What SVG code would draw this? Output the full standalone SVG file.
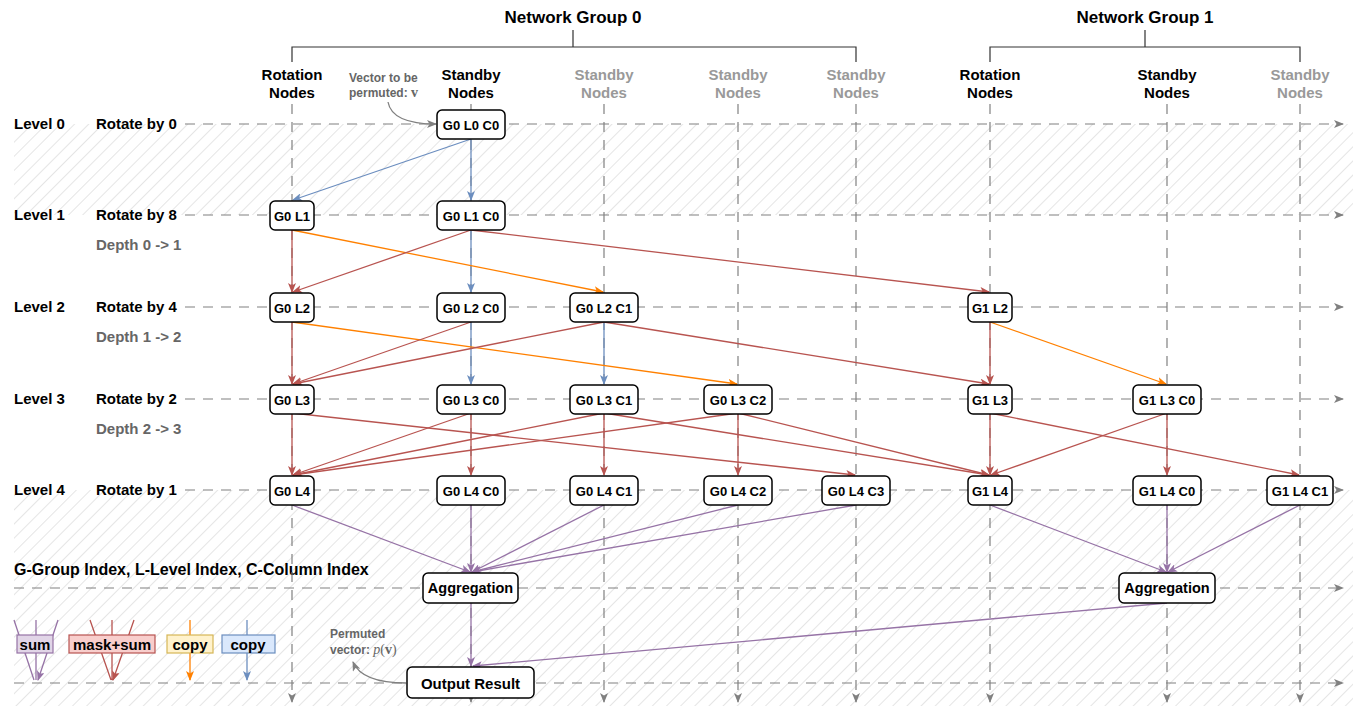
<svg xmlns="http://www.w3.org/2000/svg" width="1353" height="706" viewBox="0 0 1353 706">
<defs>
<pattern id="hatch" width="10" height="10" patternUnits="userSpaceOnUse" patternTransform="rotate(45)"><line x1="0" y1="0" x2="0" y2="10" stroke="#cccccc" stroke-width="1"/></pattern>
<marker id="aGray" viewBox="0 0 10 8" refX="9" refY="4" markerWidth="10" markerHeight="8" markerUnits="userSpaceOnUse" orient="auto"><path d="M0,0 L10,4 L0,8 L2.5,4 z" fill="#808080"/></marker>
<marker id="aBlue" viewBox="0 0 10 8" refX="9" refY="4" markerWidth="10" markerHeight="8" markerUnits="userSpaceOnUse" orient="auto"><path d="M0,0 L10,4 L0,8 L2.5,4 z" fill="#6c8ebf"/></marker>
<marker id="aRed" viewBox="0 0 10 8" refX="9" refY="4" markerWidth="10" markerHeight="8" markerUnits="userSpaceOnUse" orient="auto"><path d="M0,0 L10,4 L0,8 L2.5,4 z" fill="#b85450"/></marker>
<marker id="aOrange" viewBox="0 0 10 8" refX="9" refY="4" markerWidth="10" markerHeight="8" markerUnits="userSpaceOnUse" orient="auto"><path d="M0,0 L10,4 L0,8 L2.5,4 z" fill="#ff8000"/></marker>
<marker id="aPurple" viewBox="0 0 10 8" refX="9" refY="4" markerWidth="10" markerHeight="8" markerUnits="userSpaceOnUse" orient="auto"><path d="M0,0 L10,4 L0,8 L2.5,4 z" fill="#9673a6"/></marker>
</defs>
<style>
text{font-family:"Liberation Sans",Arial,sans-serif;font-weight:bold;}
.t14{font-size:15px;fill:#000;}
.dp{font-size:15px;fill:#666;}
.h{font-size:15px;fill:#000;text-anchor:middle;}
.hg{font-size:15px;fill:#999;text-anchor:middle;}
.ng{font-size:17px;fill:#000;text-anchor:middle;}
.gs{font-size:12px;fill:#666;}
.nt{font-size:13px;fill:#000;text-anchor:middle;dominant-baseline:central;}
.lg{font-size:15px;fill:#000;text-anchor:middle;}
.node rect{fill:#fff;stroke:#000;stroke-width:1.5;}
.dash{stroke:#808080;stroke-width:1.2;stroke-dasharray:10 8;fill:none;}
.br{stroke:#333;stroke-width:1.2;fill:none;}
.b{stroke:#6c8ebf;stroke-width:1.3;fill:none;marker-end:url(#aBlue);}
.r{stroke:#b85450;stroke-width:1.3;fill:none;marker-end:url(#aRed);}
.o{stroke:#ff8000;stroke-width:1.3;fill:none;marker-end:url(#aOrange);}
.p{stroke:#9673a6;stroke-width:1.3;fill:none;marker-end:url(#aPurple);}
.gc{stroke:#808080;stroke-width:1.3;fill:none;marker-end:url(#aGray);}
</style>
<rect width="1353" height="706" fill="#fff"/>
<rect x="14" y="124" width="1339" height="91" fill="url(#hatch)"/>
<rect x="14" y="490" width="1339" height="216" fill="url(#hatch)"/>

<g id="headers">
<text class="ng" x="573" y="23">Network Group 0</text>
<text class="ng" x="1145" y="23">Network Group 1</text>
<path class="br" d="M573,30 V47 M292,62 V47 H856 V62"/>
<path class="br" d="M1145,30 V47 M990,62 V47 H1300 V62"/>
<text class="h" x="292" y="80">Rotation</text><text class="h" x="292" y="98">Nodes</text>
<text class="h" x="471" y="80">Standby</text><text class="h" x="471" y="98">Nodes</text>
<text class="hg" x="604" y="80">Standby</text><text class="hg" x="604" y="98">Nodes</text>
<text class="hg" x="738" y="80">Standby</text><text class="hg" x="738" y="98">Nodes</text>
<text class="hg" x="856" y="80">Standby</text><text class="hg" x="856" y="98">Nodes</text>
<text class="h" x="990" y="80">Rotation</text><text class="h" x="990" y="98">Nodes</text>
<text class="h" x="1167" y="80">Standby</text><text class="h" x="1167" y="98">Nodes</text>
<text class="hg" x="1300" y="80">Standby</text><text class="hg" x="1300" y="98">Nodes</text>
<text class="gs" x="349" y="82">Vector to be</text>
<text class="gs" x="349" y="97">permuted: <tspan font-family="Liberation Serif,serif" font-size="14">v</tspan></text>
</g>

<g id="levels">
<text class="t14" x="14" y="129">Level 0</text><text class="t14" x="96" y="129">Rotate by 0</text>
<text class="t14" x="14" y="220">Level 1</text><text class="t14" x="96" y="220">Rotate by 8</text>
<text class="dp" x="96" y="250">Depth 0 -&gt; 1</text>
<text class="t14" x="14" y="312">Level 2</text><text class="t14" x="96" y="312">Rotate by 4</text>
<text class="dp" x="96" y="342">Depth 1 -&gt; 2</text>
<text class="t14" x="14" y="404">Level 3</text><text class="t14" x="96" y="404">Rotate by 2</text>
<text class="dp" x="96" y="434">Depth 2 -&gt; 3</text>
<text class="t14" x="14" y="495">Level 4</text><text class="t14" x="96" y="495">Rotate by 1</text>
<text class="t14" x="14" y="575" style="font-size:16px">G-Group Index, L-Level Index, C-Column Index</text>
</g>

<g id="grid">
<path class="dash" d="M185,124 H1343" marker-end="url(#aGray)"/>
<path class="dash" d="M185,215 H1343" marker-end="url(#aGray)"/>
<path class="dash" d="M185,307 H1343" marker-end="url(#aGray)"/>
<path class="dash" d="M185,399 H1343" marker-end="url(#aGray)"/>
<path class="dash" d="M185,490 H1343" marker-end="url(#aGray)"/>
<path class="dash" d="M14,588 H1343" marker-end="url(#aGray)"/>
<path class="dash" d="M14,683 H1343" marker-end="url(#aGray)"/>
<path class="dash" d="M292,104 V702" marker-end="url(#aGray)"/>
<path class="dash" d="M471,104 V702" marker-end="url(#aGray)"/>
<path class="dash" d="M604,104 V702" marker-end="url(#aGray)"/>
<path class="dash" d="M738,104 V702" marker-end="url(#aGray)"/>
<path class="dash" d="M856,104 V702" marker-end="url(#aGray)"/>
<path class="dash" d="M990,104 V702" marker-end="url(#aGray)"/>
<path class="dash" d="M1167,104 V702" marker-end="url(#aGray)"/>
<path class="dash" d="M1300,104 V702" marker-end="url(#aGray)"/>
</g>

<g id="connectors">
<path class="gc" d="M388,102 Q392,124 436,124"/>
<path class="gc" d="M406,683 Q362,683 353,662"/>
<path class="b" d="M471,139 L293,200"/>
<path class="b" d="M471,139 V200"/>
<path class="b" d="M471,230 V292"/>
<path class="b" d="M471,322 V384"/>
<path class="b" d="M604,322 V384"/>
<path class="o" d="M292,230 L603,292"/>
<path class="o" d="M292,322 L737,384"/>
<path class="o" d="M990,322 L1166,384"/>
<path class="r" d="M292,230 V292"/>
<path class="r" d="M471,230 L293,292"/>
<path class="r" d="M471,230 L989,292"/>
<path class="r" d="M292,322 V384"/>
<path class="r" d="M471,322 L293,384"/>
<path class="r" d="M604,322 L293,384"/>
<path class="r" d="M604,322 L989,384"/>
<path class="r" d="M990,322 V384"/>
<path class="r" d="M292,413 V475"/>
<path class="r" d="M292,413 L855,475"/>
<path class="r" d="M471,413 L293,475"/>
<path class="r" d="M471,413 V475"/>
<path class="r" d="M604,413 L293,475"/>
<path class="r" d="M604,413 V475"/>
<path class="r" d="M604,413 L989,475"/>
<path class="r" d="M738,413 L293,475"/>
<path class="r" d="M738,413 V475"/>
<path class="r" d="M738,413 L989,475"/>
<path class="r" d="M990,413 V475"/>
<path class="r" d="M990,413 L1299,475"/>
<path class="r" d="M1167,413 L991,475"/>
<path class="r" d="M1167,413 V475"/>
<path class="p" d="M292,505 L470,572"/>
<path class="p" d="M471,505 V572"/>
<path class="p" d="M604,505 L472,572"/>
<path class="p" d="M738,505 L472,572"/>
<path class="p" d="M856,505 L472,572"/>
<path class="p" d="M990,505 L1166,572"/>
<path class="p" d="M1167,505 V572"/>
<path class="p" d="M1300,505 L1168,572"/>
<path class="p" d="M471,603 V666"/>
<path class="p" d="M1167,603 L473,666"/>
</g>

<g id="n-g0l0c0" class="node"><rect x="437" y="110" width="68" height="29" rx="5"/><text class="nt" x="471" y="125">G0 L0 C0</text></g>
<g id="n-g0l1" class="node"><rect x="270" y="201" width="44" height="29" rx="5"/><text class="nt" x="292" y="216">G0 L1</text></g>
<g id="n-g0l1c0" class="node"><rect x="437" y="201" width="68" height="29" rx="5"/><text class="nt" x="471" y="216">G0 L1 C0</text></g>
<g id="n-g0l2" class="node"><rect x="270" y="293" width="44" height="29" rx="5"/><text class="nt" x="292" y="308">G0 L2</text></g>
<g id="n-g0l2c0" class="node"><rect x="437" y="293" width="68" height="29" rx="5"/><text class="nt" x="471" y="308">G0 L2 C0</text></g>
<g id="n-g0l2c1" class="node"><rect x="570" y="293" width="68" height="29" rx="5"/><text class="nt" x="604" y="308">G0 L2 C1</text></g>
<g id="n-g1l2" class="node"><rect x="968" y="293" width="44" height="29" rx="5"/><text class="nt" x="990" y="308">G1 L2</text></g>
<g id="n-g0l3" class="node"><rect x="270" y="385" width="44" height="29" rx="5"/><text class="nt" x="292" y="400">G0 L3</text></g>
<g id="n-g0l3c0" class="node"><rect x="437" y="385" width="68" height="29" rx="5"/><text class="nt" x="471" y="400">G0 L3 C0</text></g>
<g id="n-g0l3c1" class="node"><rect x="570" y="385" width="68" height="29" rx="5"/><text class="nt" x="604" y="400">G0 L3 C1</text></g>
<g id="n-g0l3c2" class="node"><rect x="704" y="385" width="68" height="29" rx="5"/><text class="nt" x="738" y="400">G0 L3 C2</text></g>
<g id="n-g1l3" class="node"><rect x="968" y="385" width="44" height="29" rx="5"/><text class="nt" x="990" y="400">G1 L3</text></g>
<g id="n-g1l3c0" class="node"><rect x="1133" y="385" width="68" height="29" rx="5"/><text class="nt" x="1167" y="400">G1 L3 C0</text></g>
<g id="n-g0l4" class="node"><rect x="270" y="476" width="44" height="29" rx="5"/><text class="nt" x="292" y="491">G0 L4</text></g>
<g id="n-g0l4c0" class="node"><rect x="437" y="476" width="68" height="29" rx="5"/><text class="nt" x="471" y="491">G0 L4 C0</text></g>
<g id="n-g0l4c1" class="node"><rect x="570" y="476" width="68" height="29" rx="5"/><text class="nt" x="604" y="491">G0 L4 C1</text></g>
<g id="n-g0l4c2" class="node"><rect x="704" y="476" width="68" height="29" rx="5"/><text class="nt" x="738" y="491">G0 L4 C2</text></g>
<g id="n-g0l4c3" class="node"><rect x="822" y="476" width="68" height="29" rx="5"/><text class="nt" x="856" y="491">G0 L4 C3</text></g>
<g id="n-g1l4" class="node"><rect x="968" y="476" width="44" height="29" rx="5"/><text class="nt" x="990" y="491">G1 L4</text></g>
<g id="n-g1l4c0" class="node"><rect x="1133" y="476" width="68" height="29" rx="5"/><text class="nt" x="1167" y="491">G1 L4 C0</text></g>
<g id="n-g1l4c1" class="node"><rect x="1267" y="476" width="66" height="29" rx="5"/><text class="nt" x="1300" y="491">G1 L4 C1</text></g>
<g id="n-agg0" class="node"><rect x="423" y="573" width="95" height="30" rx="5"/><text class="nt" x="470.5" y="588" style="font-size:14.5px">Aggregation</text></g>
<g id="n-agg1" class="node"><rect x="1119" y="573" width="96" height="30" rx="5"/><text class="nt" x="1167" y="588" style="font-size:14.5px">Aggregation</text></g>
<g id="n-out" class="node"><rect x="407" y="667" width="127" height="31" rx="5"/><text class="nt" x="470.5" y="683" style="font-size:15px">Output Result</text></g>
<g id="permuted">
<text class="gs" x="330" y="638">Permuted</text>
<text class="gs" x="330" y="654">vector: <tspan font-family="Liberation Serif,serif" font-style="italic" font-weight="normal" font-size="14">p</tspan><tspan font-family="Liberation Serif,serif" font-weight="normal" font-size="14">(</tspan><tspan font-family="Liberation Serif,serif" font-size="14">v</tspan><tspan font-family="Liberation Serif,serif" font-weight="normal" font-size="14">)</tspan></text>
</g>

<g id="legend">
<path class="p" d="M14,620 L34,680 M36,620 V680 M58,620 L38,680"/>
<rect x="17" y="635" width="36" height="18" fill="#e1d5e7" stroke="#9673a6" stroke-width="1.2"/>
<text class="lg" x="35" y="650">sum</text>
<path class="r" d="M90,620 L111,680 M112,620 V680 M134,620 L113,680"/>
<rect x="69" y="635" width="86" height="18" fill="#f8cecc" stroke="#b85450" stroke-width="1.2"/>
<text class="lg" x="112" y="650">mask+sum</text>
<path class="o" d="M190,620 V680"/>
<rect x="167" y="635" width="46" height="18" fill="#fff2cc" stroke="#d6b656" stroke-width="1.2"/>
<text class="lg" x="190" y="650">copy</text>
<path class="b" d="M247,620 V680"/>
<rect x="222" y="635" width="53" height="18" fill="#dae8fc" stroke="#6c8ebf" stroke-width="1.2"/>
<text class="lg" x="248" y="650">copy</text>
</g>
</svg>
